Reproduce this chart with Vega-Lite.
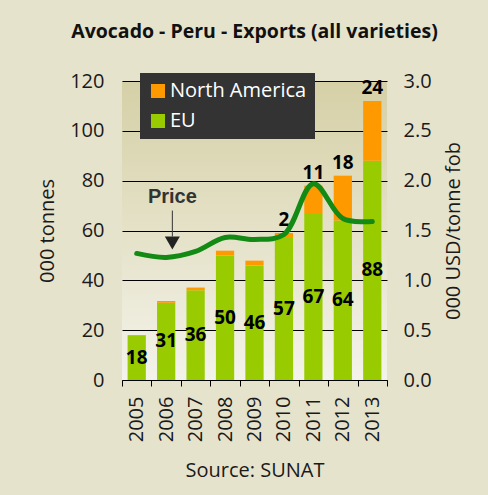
{
  "$schema": "https://vega.github.io/schema/vega-lite/v6.json",
  "width": 265,
  "height": 299,
  "autosize": {"type": "none"},
  "padding": {"left": 122, "top": 81, "right": 101, "bottom": 115},
  "background": "#E6E3CD",
  "title": {
    "text": "Avocado - Peru - Exports (all varieties)",
    "font": "Open Sans",
    "fontSize": 19.5,
    "fontWeight": "bold",
    "color": "#111111",
    "anchor": "middle",
    "frame": "group",
    "offset": 29
  },
  "datasets": {
    "exports": [
      {"year": 2005, "EU": 18, "North America": 0, "price": 1.27},
      {"year": 2006, "EU": 31, "North America": 0.7, "price": 1.23},
      {"year": 2007, "EU": 36, "North America": 1.1, "price": 1.29},
      {"year": 2008, "EU": 50, "North America": 1.9, "price": 1.43},
      {"year": 2009, "EU": 46, "North America": 1.9, "price": 1.41},
      {"year": 2010, "EU": 57, "North America": 2, "price": 1.46},
      {"year": 2011, "EU": 67, "North America": 11, "price": 1.97},
      {"year": 2012, "EU": 64, "North America": 18, "price": 1.62},
      {"year": 2013, "EU": 88, "North America": 24, "price": 1.59}
    ],
    "note": [
      {"year": 2006, "label": "Price", "textAt": 1.84, "from": 1.70, "to": 1.44, "tip": 1.375}
    ]
  },
  "layer": [
    {
      "data": {"name": "exports"},
      "transform": [{"fold": ["EU", "North America"], "as": ["region", "tonnes"]}],
      "layer": [
        {
          "mark": {"type": "bar", "width": {"band": 0.62}},
          "encoding": {
            "x": {
              "field": "year",
              "type": "ordinal",
              "scale": {"paddingInner": 0, "paddingOuter": 0},
              "axis": {
                "title": "Source: SUNAT",
                "labelAngle": 270,
                "tickBand": "extent",
                "domainColor": "#000000",
                "tickColor": "#000000",
                "tickSize": 6,
                "labelPadding": 10,
                "titlePadding": 19,
                "grid": false
              }
            },
            "y": {
              "field": "tonnes",
              "type": "quantitative",
              "stack": "zero",
              "scale": {"domain": [0, 120], "nice": false},
              "axis": {
                "title": "000 tonnes",
                "values": [0, 20, 40, 60, 80, 100, 120],
                "grid": true,
                "gridColor": "#000000",
                "gridOpacity": 1,
                "domain": false,
                "ticks": false,
                "labelPadding": 18,
                "titlePadding": 12
              }
            },
            "color": {
              "field": "region",
              "type": "nominal",
              "scale": {"domain": ["North America", "EU"], "range": ["#FF9900", "#99CC00"]},
              "legend": {
                "title": null,
                "orient": "none",
                "legendX": 18,
                "legendY": -8,
                "fillColor": "#333333",
                "padding": 8,
                "symbolType": "square",
                "symbolSize": 196,
                "symbolStrokeWidth": 0,
                "labelColor": "#FFFFFF",
                "labelFont": "Open Sans",
                "labelFontSize": 20,
                "labelOffset": 2,
                "rowPadding": 10
              }
            },
            "order": {"field": "region", "sort": "ascending"}
          }
        },
        {
          "transform": [
            {"stack": "tonnes", "groupby": ["year"], "sort": [{"field": "region", "order": "ascending"}], "as": ["t0", "t1"]},
            {"filter": {"field": "region", "equal": "North America"}},
            {"filter": {"field": "year", "gte": 2010}}
          ],
          "mark": {"type": "text", "font": "Open Sans", "fontSize": 19, "fontWeight": "bold", "color": "#000000", "baseline": "bottom", "dy": -3},
          "encoding": {
            "x": {"field": "year", "type": "ordinal"},
            "y": {"field": "t1", "type": "quantitative", "scale": {"domain": [0, 120], "nice": false}},
            "text": {"field": "tonnes", "type": "quantitative", "format": ".0f"}
          }
        }
      ]
    },
    {
      "layer": [
        {
          "data": {"name": "exports"},
          "mark": {"type": "line", "interpolate": "catmull-rom", "strokeWidth": 5, "color": "#138A13", "strokeCap": "round"},
          "encoding": {
            "x": {"field": "year", "type": "ordinal"},
            "y": {
              "field": "price",
              "type": "quantitative",
              "scale": {"domain": [0, 3], "nice": false},
              "axis": {
                "orient": "right",
                "title": "000 USD/tonne fob",
                "values": [0, 0.5, 1, 1.5, 2, 2.5, 3],
                "format": ".1f",
                "grid": false,
                "domain": false,
                "ticks": false,
                "labelPadding": 16,
                "titleAngle": 270,
                "titleBaseline": "top",
                "titlePadding": 12
              }
            }
          }
        },
        {
          "data": {"name": "note"},
          "mark": {"type": "rule", "color": "#333333", "strokeWidth": 1},
          "encoding": {
            "x": {"field": "year", "type": "ordinal", "bandPosition": 0.71},
            "y": {"field": "from", "type": "quantitative"},
            "y2": {"field": "to"}
          }
        },
        {
          "data": {"name": "note"},
          "mark": {"type": "point", "shape": "triangle-down", "filled": true, "size": 225, "color": "#222222", "opacity": 1},
          "encoding": {
            "x": {"field": "year", "type": "ordinal", "bandPosition": 0.71},
            "y": {"field": "tip", "type": "quantitative"}
          }
        },
        {
          "data": {"name": "note"},
          "mark": {"type": "text", "font": "Liberation Sans", "fontSize": 20, "fontWeight": "bold", "color": "#333333", "baseline": "middle"},
          "encoding": {
            "x": {"field": "year", "type": "ordinal", "bandPosition": 0.71},
            "y": {"field": "textAt", "type": "quantitative"},
            "text": {"field": "label"}
          }
        }
      ]
    },
    {
      "data": {"name": "exports"},
      "mark": {"type": "text", "font": "Open Sans", "fontSize": 19, "fontWeight": "bold", "color": "#000000", "baseline": "middle"},
      "encoding": {
        "x": {"field": "year", "type": "ordinal"},
        "y": {"field": "EU", "type": "quantitative", "scale": {"domain": [0, 240], "nice": false}, "axis": null},
        "text": {"field": "EU", "type": "quantitative", "format": ".0f"}
      }
    }
  ],
  "resolve": {"scale": {"y": "independent"}},
  "config": {
    "view": {
      "stroke": null,
      "fill": {
        "gradient": "linear",
        "x1": 0, "y1": 0, "x2": 0, "y2": 1,
        "stops": [
          {"offset": 0, "color": "#D5D0A6"},
          {"offset": 1, "color": "#F4F3EA"}
        ]
      }
    },
    "axis": {
      "labelFont": "Open Sans",
      "labelFontSize": 20,
      "labelColor": "#1A1A1A",
      "titleFont": "Open Sans",
      "titleFontSize": 20,
      "titleFontWeight": "normal",
      "titleColor": "#1A1A1A"
    }
  }
}
